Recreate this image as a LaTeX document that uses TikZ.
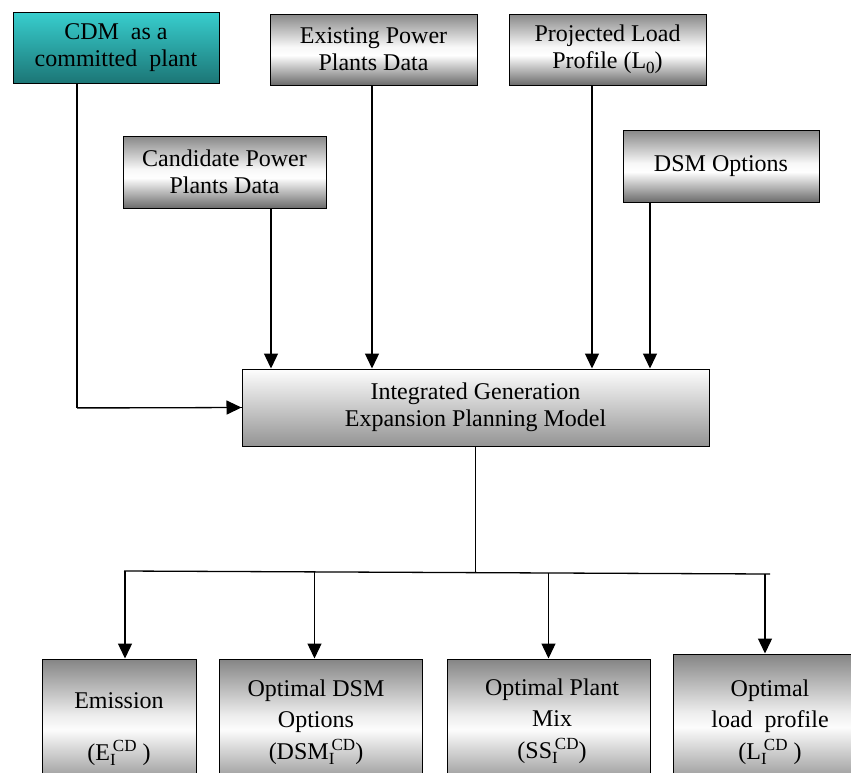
\documentclass[tikz,border=0pt]{standalone}
\usepackage{fontspec}
\setmainfont{Liberation Serif}
\usetikzlibrary{arrows.meta}
\definecolor{tealtop}{HTML}{38CECE}
\definecolor{tealbot}{HTML}{1C7676}
\pgfdeclareverticalshading{topmetal}{100bp}{rgb(0bp)=(0.42,0.42,0.42); rgb(25bp)=(0.42,0.42,0.42); rgb(46bp)=(1,1,1); rgb(52bp)=(0.97,0.97,0.97); rgb(75bp)=(0.53,0.53,0.53); rgb(100bp)=(0.53,0.53,0.53)}
\pgfdeclareverticalshading{mainshade}{100bp}{rgb(0bp)=(0.58,0.58,0.58); rgb(25bp)=(0.58,0.58,0.58); rgb(75bp)=(0.995,0.995,0.995); rgb(100bp)=(0.995,0.995,0.995)}
\pgfdeclareverticalshading{botmetal}{100bp}{rgb(0bp)=(0.45,0.45,0.45); rgb(25bp)=(0.45,0.45,0.45); rgb(50bp)=(0.99,0.99,0.99); rgb(55bp)=(0.93,0.93,0.93); rgb(75bp)=(0.52,0.52,0.52); rgb(100bp)=(0.52,0.52,0.52)}
\newcommand\mysb[1]{\raisebox{-0.22em}{\fontsize{17}{17}\selectfont #1}}
\newcommand\mysp[1]{\raisebox{0.36em}{\fontsize{17}{17}\selectfont #1}}
\newcommand\mysbsp[2]{\rlap{\mysb{#1}}\hspace{0.12em}\mysp{#2}}
\tikzset{
  box/.style={draw=black, line width=1pt, rectangle, inner sep=0pt, align=center,
    font=\fontsize{24}{27}\selectfont},
  inbox/.style={box, shade, shading=topmetal},
  cdmbox/.style={box, top color=tealtop, bottom color=tealbot},
  mainbox/.style={box, shade, shading=mainshade},
  outbox/.style={box, shade, shading=botmetal},
  lbl/.style={inner sep=0pt, align=center, font=\fontsize{24}{31.5}\selectfont},
  ln/.style={line width=1.3pt},
  arr/.style={line width=1.3pt, -{Triangle[width=14pt,length=15pt]}}
}
\begin{document}
\begin{tikzpicture}[x=1pt,y=-1pt]
\useasboundingbox[fill=white] (0,0) rectangle (851,772);
% input boxes
\node[cdmbox, minimum width=206pt, minimum height=71pt] (cdm) at (116,47.5) {CDM\ \ as a\\committed\ \ plant};
\node[inbox, minimum width=207pt, minimum height=71pt] (exist) at (373.5,49.5) {Existing Power\\Plants Data};
\node[inbox, minimum width=197pt, minimum height=71pt] (proj) at (607.5,49.5) {Projected Load\\Profile (L\mysb{0})};
\node[inbox, minimum width=203pt, minimum height=72pt] (cand) at (224.5,172) {Candidate Power\\Plants Data};
\node[inbox, minimum width=196pt, minimum height=72pt] (dsm) at (721,166) {DSM Options};
% model
\node[mainbox, minimum width=467pt, minimum height=77pt] (model) at (475.5,407.5) {Integrated Generation\\Expansion Planning Model};
% output boxes
\node[outbox, minimum width=154pt, minimum height=141pt] (em) at (119,729.5) {};
\node[outbox, minimum width=203pt, minimum height=141pt] (odsm) at (320.5,729.5) {};
\node[outbox, minimum width=203pt, minimum height=141pt] (mix) at (548.5,729.5) {};
\node[outbox, minimum width=184pt, minimum height=146pt] (load) at (765,727) {};
\node[lbl, anchor=base] (emt) at (119,760) {Emission\\[20.5pt](E\mysbsp{I}{CD} )};
\node[lbl, anchor=base] (odsmt) at (316,759) {Optimal DSM\\Options\\(DSM\mysbsp{I}{CD})};
\node[lbl, anchor=base] (mixt) at (552,758) {Optimal Plant\\Mix\\(SS\mysbsp{I}{CD})};
\node[lbl, anchor=base] (loadt) at (770,759) {Optimal\\load\ \ profile\\(L\mysbsp{I}{CD} )};
% connectors in
\coordinate (bend) at (77,408);
\draw[ln] ([xshift=-39pt]cdm.south) |- (model.west);
\draw[arr] ([xshift=46.5pt]cand.south) -- ([xshift=46.5pt]cand.south |- model.north);
\draw[arr] ([xshift=-1.5pt]exist.south) -- ([xshift=-1.5pt]exist.south |- model.north);
\draw[arr] ([xshift=-15.5pt]proj.south) -- ([xshift=-15.5pt]proj.south |- model.north);
\draw[arr] ([xshift=-71pt]dsm.south) -- ([xshift=-71pt]dsm.south |- model.north);
\draw[arr] ([xshift=0pt]bend) -- (model.west);
% connectors out
\coordinate (split) at (475.5,572);
\coordinate (hl) at (124,571);
\coordinate (hr) at (770,574);
\draw[ln] (model.south) -- (split);
\draw[ln] (hl) -- (hr);
\draw[arr] ([xshift=6pt]em.north |- hl) -- ([xshift=6pt]em.north);
\draw[arr] ([xshift=-6pt]odsm.north |- 0,572) -- ([xshift=-6pt]odsm.north);
\draw[arr] ([xshift=0pt]mix.north |- 0,573) -- (mix.north);
\draw[arr] (load.north |- hr) -- (load.north);
\end{tikzpicture}
\end{document}
